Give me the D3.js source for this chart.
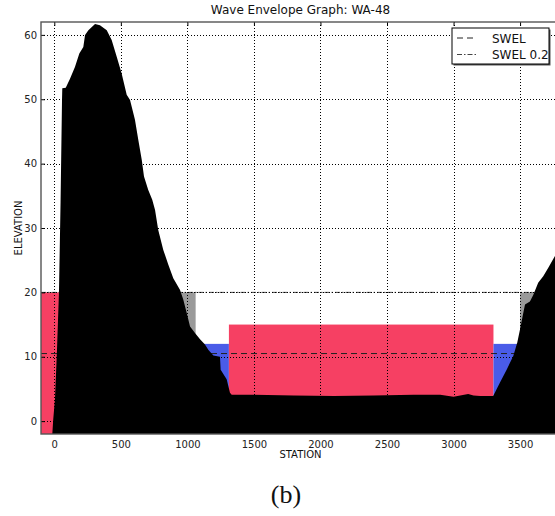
<!DOCTYPE html>
<html>
<head>
<meta charset="utf-8">
<script src="https://cdn.jsdelivr.net/npm/d3@7"></script>
<style>
  html, body { margin: 0; padding: 0; background: #fff; }
  svg { display: block; font-family: "DejaVu Sans", sans-serif; }
</style>
</head>
<body>
<svg id="chart" width="555" height="516"></svg>
<script>
// Ground profile along the transect (station in ft, elevation in ft)
const stations = [-25, -15, -8, 5, 20, 35, 47, 58, 60, 86, 118, 155, 188, 218, 231, 256, 306, 343,
  394, 431, 469, 506, 544, 569, 606, 631, 657, 674, 706, 736, 757, 781, 819, 857, 894, 944,
  969, 995, 1020, 1057, 1095, 1132, 1157, 1195, 1245, 1250, 1295, 1320, 1333, 1500, 1800,
  2100, 2400, 2700, 2900, 3000, 3050, 3110, 3150, 3200, 3298, 3349, 3399, 3449, 3479, 3499,
  3524, 3537, 3574, 3599, 3636, 3674, 3711, 3761, 3800];
const elevations = [-3, -2, 0.3, 3.4, 11, 20, 34, 50, 51.7, 51.8, 53.2, 55, 57.1, 58.1, 60, 60.7, 61.7, 61.5,
  60.7, 59.2, 56.6, 54, 50.7, 49.9, 46.8, 43.7, 40.6, 38, 35.9, 34.4, 32.8, 29.7, 26.6, 24.3, 22.2, 20.4,
  18.9, 16.8, 14.7, 13.7, 12.7, 11.9, 11.1, 10.2, 10, 8, 6.5, 4.4, 4.1, 4.1, 4.0,
  3.9, 4.0, 4.1, 4.1, 3.8, 4.0, 4.2, 4.0, 3.9, 3.9, 6, 8, 10.1, 12.2, 14.2,
  16.8, 18.1, 18.6, 19.6, 21.5, 22.5, 23.8, 25.6, 26.8];

// Hazard zones behind the profile
const zoneStart = [-100, 900, 1000, 1312, 3300, 3500];
const zoneEnd   = [100, 1062, 1312, 3300, 3700, 3700];
const zoneLow   = [-2, 12, -2, -2, -2, 12];
const zoneHigh  = [20, 20, 12, 15, 12, 20];
const zoneKind  = ["VE", "X", "AE", "VE", "AE", "X"];

// Still water levels
const swel = 10.5;
const swel02 = 20;

// Axis ticks
const xTicks = [0, 500, 1000, 1500, 2000, 2500, 3000, 3500];
const yTicks = [0, 10, 20, 30, 40, 50, 60];

const zoneFill = { VE: "#f64063", AE: "#4a5ce8", X: "#9a9a9a" };

const svg = d3.select("#chart");
const pL = 41, pR = 560, pT = 22, pB = 434;

const x = d3.scaleLinear().domain([-100, 3800]).range([pL, pR]);
const y = d3.scaleLinear().domain([-2, 62]).range([pB, pT]);

svg.append("defs").append("clipPath").attr("id", "plotclip")
  .append("rect").attr("x", pL).attr("y", pT)
  .attr("width", pR - pL).attr("height", pB - pT);

const plot = svg.append("g").attr("clip-path", "url(#plotclip)");

// zone rectangles
plot.selectAll("rect.zone").data(zoneStart).join("rect")
  .attr("class", "zone")
  .attr("x", (d, i) => x(zoneStart[i]))
  .attr("width", (d, i) => x(zoneEnd[i]) - x(zoneStart[i]))
  .attr("y", (d, i) => y(zoneHigh[i]))
  .attr("height", (d, i) => y(zoneLow[i]) - y(zoneHigh[i]))
  .attr("fill", (d, i) => zoneFill[zoneKind[i]]);

// still water level lines
plot.append("line")
  .attr("x1", pL).attr("x2", pR)
  .attr("y1", y(swel)).attr("y2", y(swel))
  .attr("stroke", "#222").attr("stroke-width", 1)
  .attr("stroke-dasharray", "6,4");
plot.append("line")
  .attr("x1", pL).attr("x2", pR)
  .attr("y1", y(swel02)).attr("y2", y(swel02))
  .attr("stroke", "#444").attr("stroke-width", 1)
  .attr("stroke-dasharray", "5,2,1.5,2");

// ground profile filled down to the axis
const profile = stations.map((s, i) => [s, elevations[i]]);
plot.append("path")
  .datum(profile)
  .attr("fill", "#000")
  .attr("d", d3.area().x(d => x(d[0])).y0(y(-2)).y1(d => y(d[1])));

// dotted grid
const grid = svg.append("g").attr("clip-path", "url(#plotclip)")
  .attr("stroke", "#000").attr("stroke-width", 1).attr("stroke-dasharray", "1,2");
grid.selectAll("line.gx").data(xTicks).join("line")
  .attr("x1", d => Math.round(x(d)) + 0.5).attr("x2", d => Math.round(x(d)) + 0.5)
  .attr("y1", pT).attr("y2", pB);
grid.selectAll("line.gy").data(yTicks).join("line")
  .attr("y1", d => Math.round(y(d)) + 0.5).attr("y2", d => Math.round(y(d)) + 0.5)
  .attr("x1", pL).attr("x2", pR);

// axes with inward ticks
const fmt = d3.format("d");
const axB = svg.append("g").attr("transform", `translate(0,${pB})`)
  .call(d3.axisBottom(x).tickValues(xTicks).tickFormat(fmt).tickSizeInner(-4).tickSizeOuter(0).tickPadding(7));
const axL = svg.append("g").attr("transform", `translate(${pL},0)`)
  .call(d3.axisLeft(y).tickValues(yTicks).tickFormat(fmt).tickSizeInner(-4).tickSizeOuter(0).tickPadding(4));
const axT = svg.append("g").attr("transform", `translate(0,${pT})`)
  .call(d3.axisTop(x).tickValues(xTicks).tickFormat("").tickSizeInner(-4).tickSizeOuter(0));
[axB, axL, axT].forEach(a => {
  a.select(".domain").remove();
  a.selectAll("text").attr("font-family", "DejaVu Sans, sans-serif").attr("font-size", 10).attr("fill", "#222");
  a.selectAll(".tick line").attr("stroke", "#000");
});

// frame
svg.append("rect")
  .attr("x", pL).attr("y", pT)
  .attr("width", pR - pL).attr("height", pB - pT)
  .attr("fill", "none").attr("stroke", "#555").attr("stroke-width", 1.4);

// title and axis labels
svg.append("text").attr("x", (pL + pR) / 2).attr("y", 14)
  .attr("text-anchor", "middle").attr("font-size", 12).attr("fill", "#111")
  .text("Wave Envelope Graph: WA-48");
svg.append("text").attr("x", (pL + pR) / 2).attr("y", 458)
  .attr("text-anchor", "middle").attr("font-size", 10).attr("fill", "#111")
  .text("STATION");
svg.append("text")
  .attr("transform", `translate(22,${(pT + pB) / 2}) rotate(-90)`)
  .attr("text-anchor", "middle").attr("font-size", 10).attr("fill", "#111")
  .text("ELEVATION");

// legend
const lg = svg.append("g").attr("transform", "translate(452,28)");
lg.append("rect").attr("x", 1.5).attr("y", 1.5).attr("width", 97).attr("height", 36).attr("fill", "#555");
lg.append("rect").attr("x", 0).attr("y", 0).attr("width", 97).attr("height", 36)
  .attr("fill", "#fff").attr("stroke", "#000").attr("stroke-width", 1);
const legendItems = [
  { label: "SWEL", dash: "6,4", color: "#222" },
  { label: "SWEL 0.2", dash: "5,2,1.5,2", color: "#444" }
];
legendItems.forEach((d, i) => {
  const yy = 10 + i * 16.5;
  lg.append("line").attr("x1", 5).attr("x2", 25).attr("y1", yy).attr("y2", yy)
    .attr("stroke", d.color).attr("stroke-width", 1).attr("stroke-dasharray", d.dash);
  lg.append("text").attr("x", 40).attr("y", yy + 4.5).attr("font-size", 12).attr("fill", "#111")
    .text(d.label);
});

// panel caption
svg.append("text").attr("x", 286).attr("y", 503)
  .attr("text-anchor", "middle").attr("font-family", "Liberation Serif, serif")
  .attr("font-size", 26).attr("fill", "#111").text("(b)");
</script>
</body>
</html>
